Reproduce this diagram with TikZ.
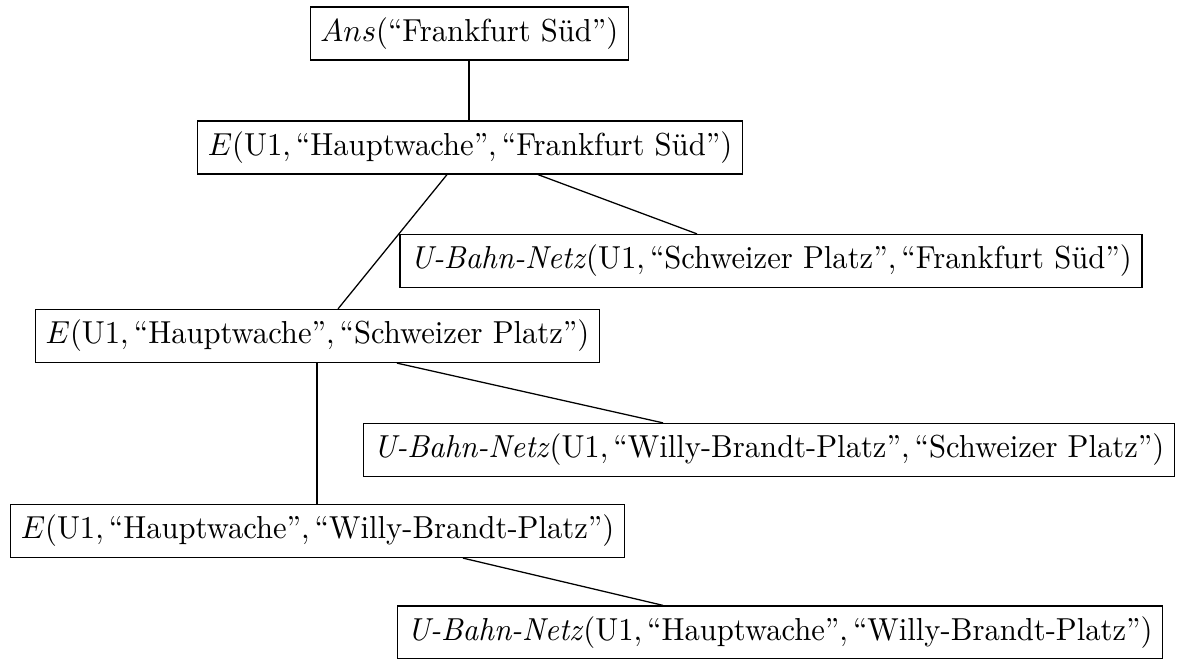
\documentclass[tikz,border=0pt]{standalone}
\usepackage{amsmath}
\begin{document}
\begin{tikzpicture}[x=0.3145pt, y=-0.3145pt,
  term/.style={draw, rectangle, inner sep=0.333em, font=\normalsize,
    xscale=0.963, transform shape},
  edge/.style={draw, line width=0.4pt}]
\useasboundingbox (0,0) rectangle (1187,659);

% proof tree nodes
\node[term] (ans) at (469.4,33.5) {$Ans$(“Frankfurt Süd”)};
\node[term] (e1) at (470,147.5) {$E(\text{U1},\text{“Hauptwache”},\text{“Frankfurt Süd”})$};
\node[term] (u1) at (771,261) {$\text{\textit{U-Bahn-Netz}}(\text{U1},\text{“Schweizer Platz”},\text{“Frankfurt Süd”})$};
\node[term] (e2) at (317.5,336) {$E(\text{U1},\text{“Hauptwache”},\text{“Schweizer Platz”})$};
\node[term] (u2) at (769,450) {$\text{\textit{U-Bahn-Netz}}(\text{U1},\text{“Willy-Brandt-Platz”},\text{“Schweizer Platz”})$};
\node[term] (e3) at (317.5,531) {$E(\text{U1},\text{“Hauptwache”},\text{“Willy-Brandt-Platz”})$};
\node[term] (u3) at (780,632.5) {$\text{\textit{U-Bahn-Netz}}(\text{U1},\text{“Hauptwache”},\text{“Willy-Brandt-Platz”})$};

% horizontal positions where the edges meet the boxes
\coordinate (xa) at (469,0);
\coordinate (xe1l) at (447,0);
\coordinate (xe1r) at (538,0);
\coordinate (xu1) at (697,0);
\coordinate (xe2t) at (338,0);
\coordinate (xe2) at (317,0);
\coordinate (xe2r) at (397,0);
\coordinate (xu2) at (663,0);
\coordinate (xe3r) at (463,0);
\coordinate (xu3) at (663,0);

% edges
\draw[edge] (ans.south -| xa) -- (e1.north -| xa);
\draw[edge] (e1.south -| xe1l) -- (e2.north -| xe2t);
\draw[edge] (e1.south -| xe1r) -- (u1.north -| xu1);
\draw[edge] (e2.south -| xe2) -- (e3.north -| xe2);
\draw[edge] (e2.south -| xe2r) -- (u2.north -| xu2);
\draw[edge] (e3.south -| xe3r) -- (u3.north -| xu3);
\end{tikzpicture}
\end{document}
